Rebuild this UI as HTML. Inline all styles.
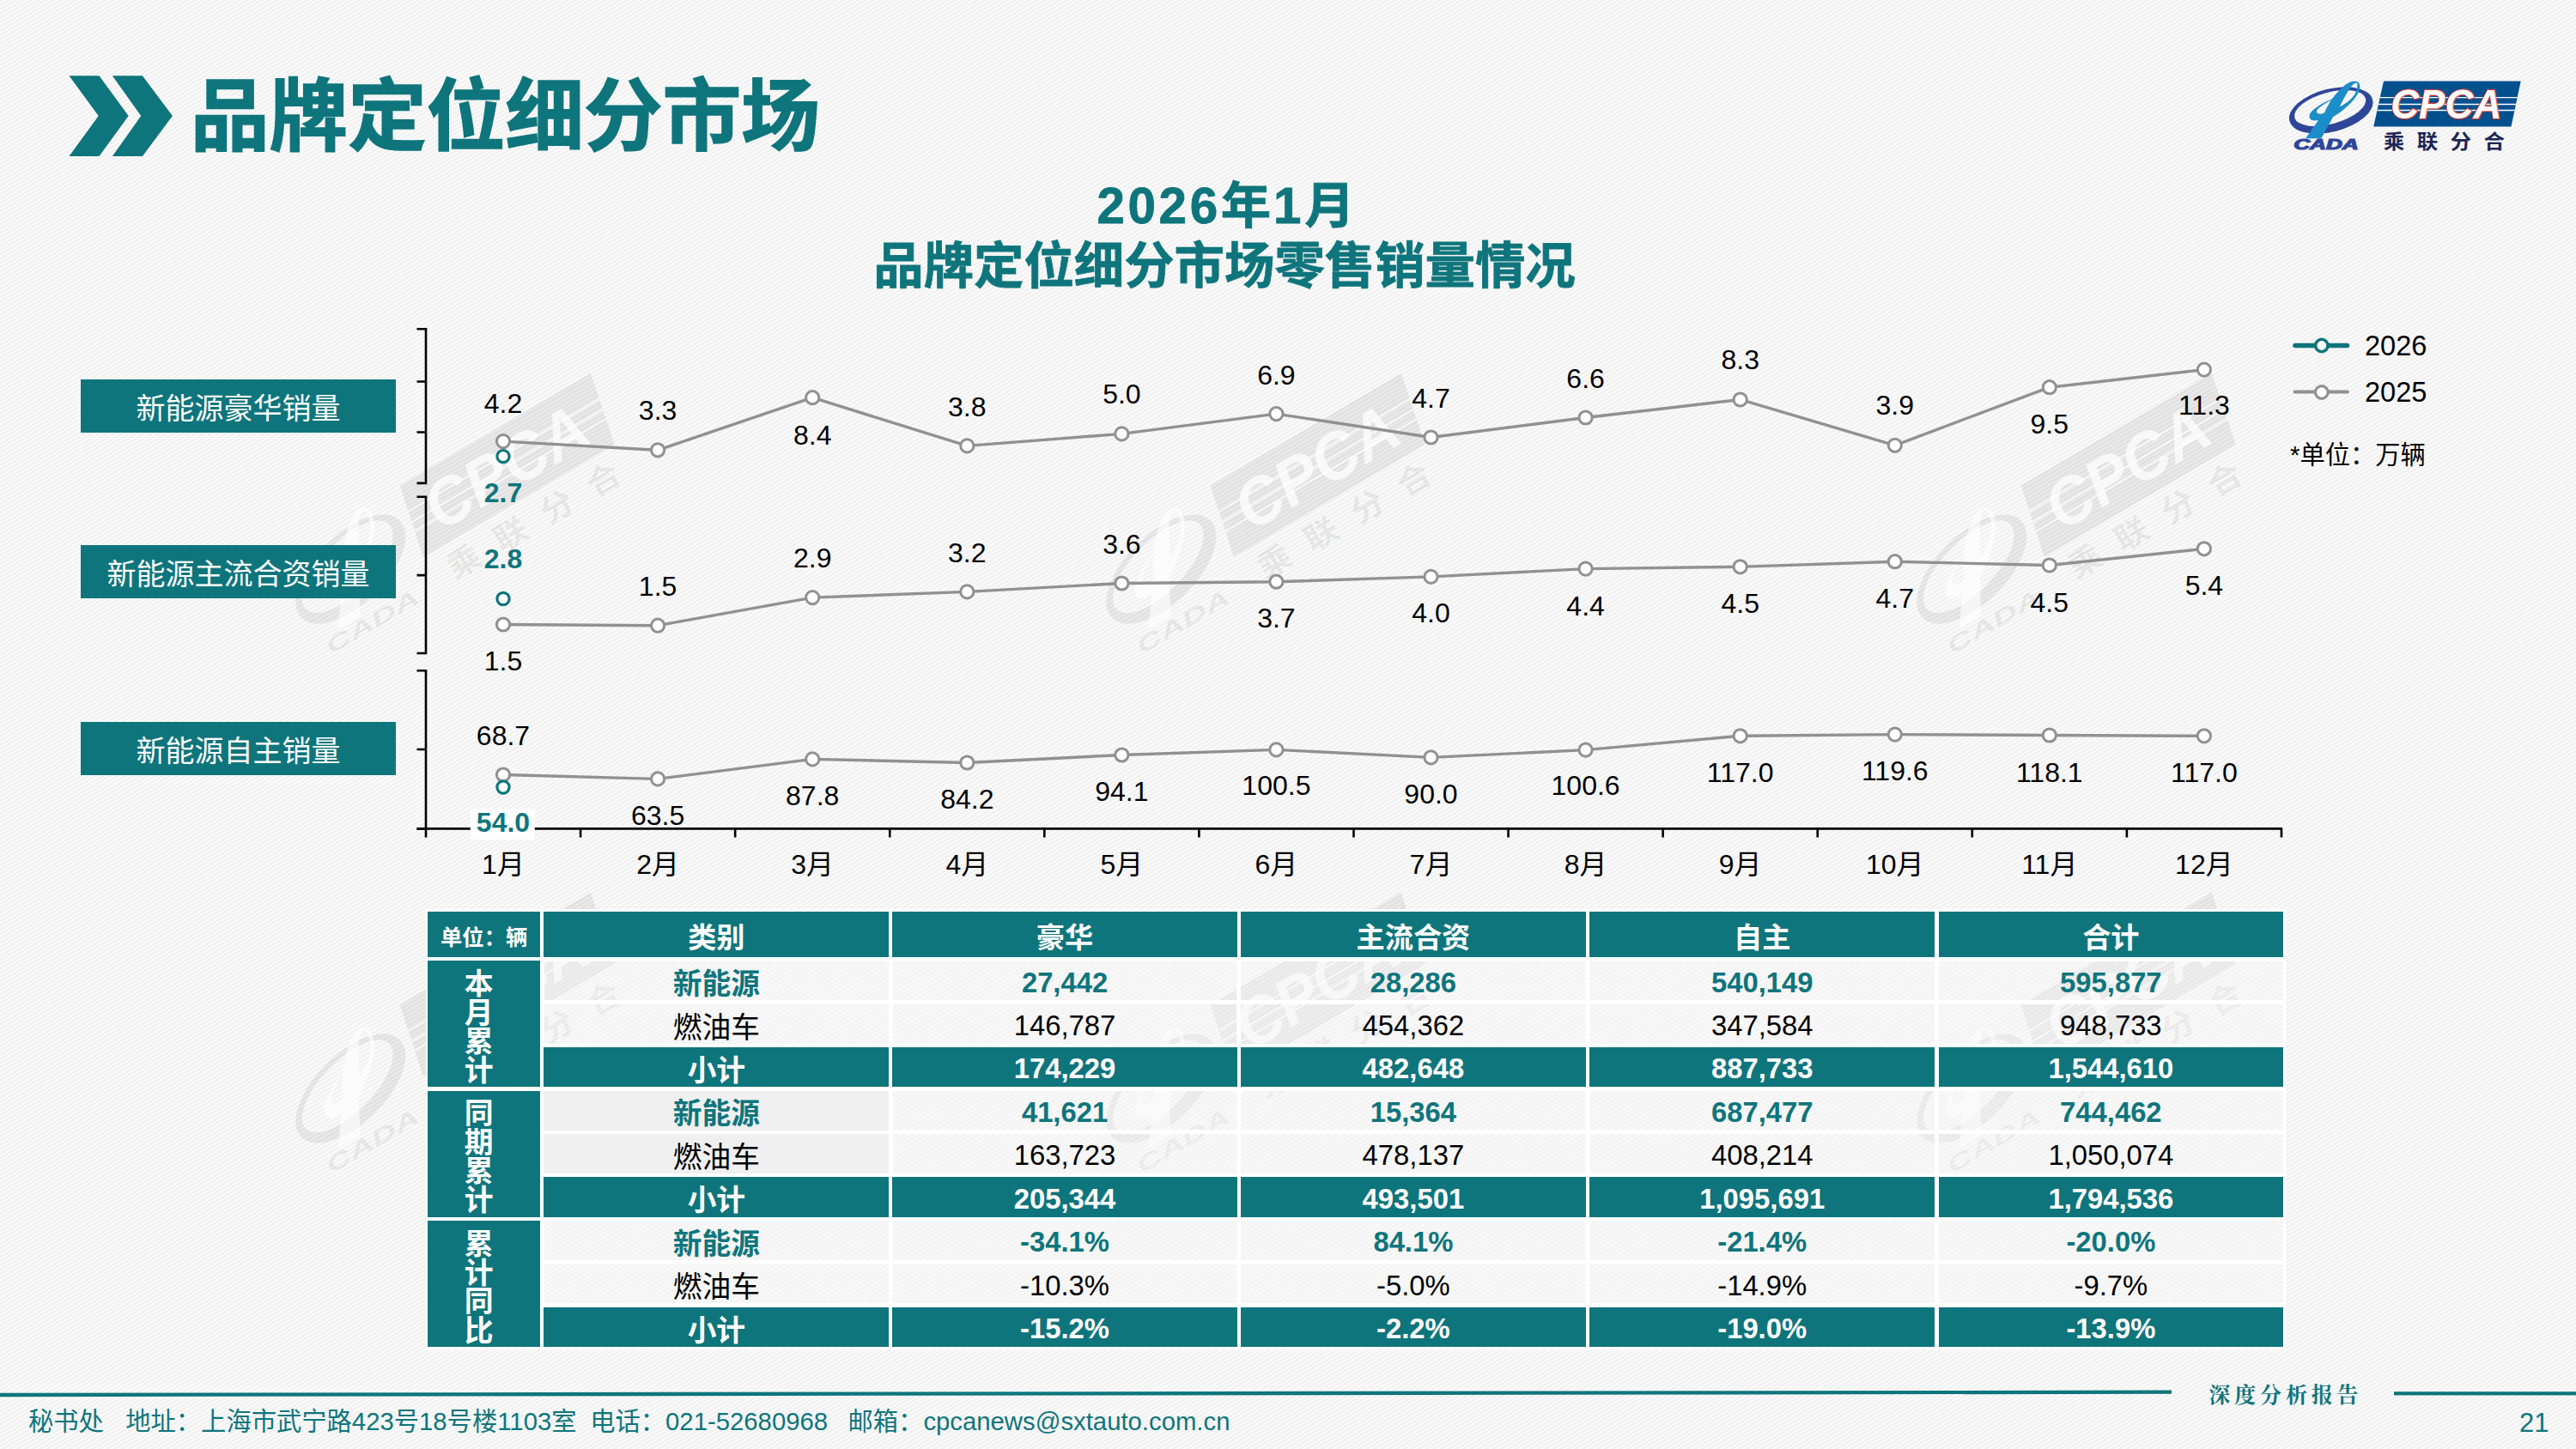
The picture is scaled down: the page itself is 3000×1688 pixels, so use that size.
<!DOCTYPE html>
<html lang="zh-CN">
<head>
<meta charset="utf-8">
<title>品牌定位细分市场</title>
<style>
html,body{margin:0;padding:0;}
body{width:3000px;height:1688px;position:relative;overflow:hidden;
  font-family:"Liberation Sans","Noto Sans CJK SC",sans-serif;color:#000;
  background-color:#f6f6f6;
  background-image:repeating-linear-gradient(150deg,#f1f1f1 0px,#f1f1f1 1.6px,#fbfbfb 2.4px,#fbfbfb 3.6px,#f1f1f1 4.34px);}
.abs{position:absolute;}
.h1{position:absolute;left:222px;top:69.6px;font-size:91.6px;line-height:132px;font-weight:700;color:#0F757C;white-space:nowrap;letter-spacing:0;-webkit-text-stroke:1.5px #0F757C;}
.ctitle{position:absolute;left:826px;top:207.5px;width:1200px;text-align:center;font-size:58.4px;line-height:68.5px;font-weight:700;color:#0F757C;white-space:nowrap;-webkit-text-stroke:0.8px #0F757C;}
.lab{position:absolute;left:94px;width:367px;height:62px;background:#0F757C;color:#fff;font-size:34px;line-height:62px;padding-top:2.5px;box-sizing:border-box;text-align:center;white-space:nowrap;}
.foot{position:absolute;top:1636.2px;font-size:29.3px;line-height:40px;color:#0F757C;white-space:pre;}
.rep{position:absolute;left:2572.5px;top:1605.5px;font-family:"Liberation Serif","Noto Serif CJK SC",serif;font-weight:700;font-size:25px;line-height:40px;letter-spacing:4.8px;color:#0F757C;white-space:nowrap;}
.pg{position:absolute;left:2900px;width:68.5px;top:1638px;text-align:right;font-size:31px;line-height:40px;color:#0F757C;}
svg{position:absolute;left:0;top:0;overflow:visible;}
svg text{font-family:"Liberation Sans","Noto Sans CJK SC",sans-serif;}
.tb{position:absolute;box-sizing:border-box;}
.c{position:absolute;display:flex;align-items:center;justify-content:center;white-space:nowrap;font-size:32.8px;box-sizing:border-box;background:rgba(247,247,247,0.35);}
.d{padding-top:4.6px;}
.w{position:absolute;background:#fff;}
.k{padding-top:2.6px;font-size:33.7px;}
.h{padding-top:3px;font-size:33.2px;}
.t{background:#0F757C;color:#fff;font-weight:700;}
.n{color:#0F757C;font-weight:700;}
.g{background:#f0f0f0;}
.v{writing-mode:vertical-rl;text-orientation:upright;line-height:1;letter-spacing:0px;font-size:33.8px;padding-right:19px;padding-top:6px;}
</style>
</head>
<body>
<svg width="3000" height="1688" viewBox="0 0 3000 1688">
<g transform="translate(465.7,565.6) rotate(-30.5) scale(1.614) translate(-2776,-94.5)"><path fill="rgba(0,0,0,0.068)" fill-rule="evenodd" d="M2763.05,116.17 A49.9,24.7 -14.3 1 0 2666.35,140.83 A49.9,24.7 -14.3 1 0 2763.05,116.17 Z M2755.10,114.65 A42.9,18.4 -15.2 1 0 2672.30,137.15 A42.9,18.4 -15.2 1 0 2755.10,114.65 Z"/><path fill="rgba(255,255,255,0.62)" fill-rule="evenodd" d="M 2685.02 161.26 L 2703.31 161.26 L 2717.11 136.07 C 2724.01 132.62 2734.37 124.34 2741.27 116.06 C 2746.79 109.15 2749.89 101.56 2747.62 97.42 C 2746.10 94.66 2741.96 93.83 2737.82 95.35 C 2730.91 98.11 2724.01 105.01 2715.73 115.37 C 2707.45 118.82 2696.41 125.03 2691.58 130.55 C 2688.13 134.69 2689.16 139.52 2693.65 140.35 C 2696.41 140.62 2698.48 140.21 2699.86 140.21 Z M 2724.70 124.34 C 2728.15 117.44 2731.60 111.22 2733.67 107.77 C 2736.44 102.94 2740.58 96.87 2744.03 96.39 C 2746.24 96.73 2745.75 101.22 2743.34 107.77 C 2741.27 112.61 2735.06 119.51 2724.70 124.34 Z M 2715.04 116.40 C 2710.21 123.65 2708.83 127.79 2707.45 130.55 C 2706.07 132.76 2701.93 133.45 2699.17 132.07 C 2697.10 130.55 2697.79 128.48 2700.55 125.72 C 2704.69 122.27 2710.21 118.82 2715.04 116.40 Z"/><text x="2671.2" y="174.4" font-size="15.6" font-weight="700" font-style="italic" fill="rgba(0,0,0,0.068)"  textLength="75.5" lengthAdjust="spacingAndGlyphs">CADA</text><polygon fill="rgba(0,0,0,0.068)" points="2776,94.5 2935.7,94.5 2924.5,147.6 2764.2,147.6"/><path stroke="rgba(255,255,255,0.72)" stroke-width="1.3" fill="none" d="M2771.9,113.7H2931.7M2770.1,121.5H2930.0M2768.6,128.5H2928.5"/><text x="2784.2" y="138.3" font-size="47.5" font-weight="700" font-style="italic" fill="rgba(255,255,255,0.72)" textLength="129.2" lengthAdjust="spacingAndGlyphs">CPCA</text><text transform="matrix(1 0 0 0.93 0 0)" x="2775.8" y="186.45" font-size="24.5" font-weight="700" fill="rgba(0,0,0,0.068)" letter-spacing="14.4">乘联分合</text></g>
<g transform="translate(1409.7,565.6) rotate(-30.5) scale(1.614) translate(-2776,-94.5)"><path fill="rgba(0,0,0,0.068)" fill-rule="evenodd" d="M2763.05,116.17 A49.9,24.7 -14.3 1 0 2666.35,140.83 A49.9,24.7 -14.3 1 0 2763.05,116.17 Z M2755.10,114.65 A42.9,18.4 -15.2 1 0 2672.30,137.15 A42.9,18.4 -15.2 1 0 2755.10,114.65 Z"/><path fill="rgba(255,255,255,0.62)" fill-rule="evenodd" d="M 2685.02 161.26 L 2703.31 161.26 L 2717.11 136.07 C 2724.01 132.62 2734.37 124.34 2741.27 116.06 C 2746.79 109.15 2749.89 101.56 2747.62 97.42 C 2746.10 94.66 2741.96 93.83 2737.82 95.35 C 2730.91 98.11 2724.01 105.01 2715.73 115.37 C 2707.45 118.82 2696.41 125.03 2691.58 130.55 C 2688.13 134.69 2689.16 139.52 2693.65 140.35 C 2696.41 140.62 2698.48 140.21 2699.86 140.21 Z M 2724.70 124.34 C 2728.15 117.44 2731.60 111.22 2733.67 107.77 C 2736.44 102.94 2740.58 96.87 2744.03 96.39 C 2746.24 96.73 2745.75 101.22 2743.34 107.77 C 2741.27 112.61 2735.06 119.51 2724.70 124.34 Z M 2715.04 116.40 C 2710.21 123.65 2708.83 127.79 2707.45 130.55 C 2706.07 132.76 2701.93 133.45 2699.17 132.07 C 2697.10 130.55 2697.79 128.48 2700.55 125.72 C 2704.69 122.27 2710.21 118.82 2715.04 116.40 Z"/><text x="2671.2" y="174.4" font-size="15.6" font-weight="700" font-style="italic" fill="rgba(0,0,0,0.068)"  textLength="75.5" lengthAdjust="spacingAndGlyphs">CADA</text><polygon fill="rgba(0,0,0,0.068)" points="2776,94.5 2935.7,94.5 2924.5,147.6 2764.2,147.6"/><path stroke="rgba(255,255,255,0.72)" stroke-width="1.3" fill="none" d="M2771.9,113.7H2931.7M2770.1,121.5H2930.0M2768.6,128.5H2928.5"/><text x="2784.2" y="138.3" font-size="47.5" font-weight="700" font-style="italic" fill="rgba(255,255,255,0.72)" textLength="129.2" lengthAdjust="spacingAndGlyphs">CPCA</text><text transform="matrix(1 0 0 0.93 0 0)" x="2775.8" y="186.45" font-size="24.5" font-weight="700" fill="rgba(0,0,0,0.068)" letter-spacing="14.4">乘联分合</text></g>
<g transform="translate(2353.7,565.6) rotate(-30.5) scale(1.614) translate(-2776,-94.5)"><path fill="rgba(0,0,0,0.068)" fill-rule="evenodd" d="M2763.05,116.17 A49.9,24.7 -14.3 1 0 2666.35,140.83 A49.9,24.7 -14.3 1 0 2763.05,116.17 Z M2755.10,114.65 A42.9,18.4 -15.2 1 0 2672.30,137.15 A42.9,18.4 -15.2 1 0 2755.10,114.65 Z"/><path fill="rgba(255,255,255,0.62)" fill-rule="evenodd" d="M 2685.02 161.26 L 2703.31 161.26 L 2717.11 136.07 C 2724.01 132.62 2734.37 124.34 2741.27 116.06 C 2746.79 109.15 2749.89 101.56 2747.62 97.42 C 2746.10 94.66 2741.96 93.83 2737.82 95.35 C 2730.91 98.11 2724.01 105.01 2715.73 115.37 C 2707.45 118.82 2696.41 125.03 2691.58 130.55 C 2688.13 134.69 2689.16 139.52 2693.65 140.35 C 2696.41 140.62 2698.48 140.21 2699.86 140.21 Z M 2724.70 124.34 C 2728.15 117.44 2731.60 111.22 2733.67 107.77 C 2736.44 102.94 2740.58 96.87 2744.03 96.39 C 2746.24 96.73 2745.75 101.22 2743.34 107.77 C 2741.27 112.61 2735.06 119.51 2724.70 124.34 Z M 2715.04 116.40 C 2710.21 123.65 2708.83 127.79 2707.45 130.55 C 2706.07 132.76 2701.93 133.45 2699.17 132.07 C 2697.10 130.55 2697.79 128.48 2700.55 125.72 C 2704.69 122.27 2710.21 118.82 2715.04 116.40 Z"/><text x="2671.2" y="174.4" font-size="15.6" font-weight="700" font-style="italic" fill="rgba(0,0,0,0.068)"  textLength="75.5" lengthAdjust="spacingAndGlyphs">CADA</text><polygon fill="rgba(0,0,0,0.068)" points="2776,94.5 2935.7,94.5 2924.5,147.6 2764.2,147.6"/><path stroke="rgba(255,255,255,0.72)" stroke-width="1.3" fill="none" d="M2771.9,113.7H2931.7M2770.1,121.5H2930.0M2768.6,128.5H2928.5"/><text x="2784.2" y="138.3" font-size="47.5" font-weight="700" font-style="italic" fill="rgba(255,255,255,0.72)" textLength="129.2" lengthAdjust="spacingAndGlyphs">CPCA</text><text transform="matrix(1 0 0 0.93 0 0)" x="2775.8" y="186.45" font-size="24.5" font-weight="700" fill="rgba(0,0,0,0.068)" letter-spacing="14.4">乘联分合</text></g>
<g transform="translate(465.7,1170.6) rotate(-30.5) scale(1.614) translate(-2776,-94.5)"><path fill="rgba(0,0,0,0.068)" fill-rule="evenodd" d="M2763.05,116.17 A49.9,24.7 -14.3 1 0 2666.35,140.83 A49.9,24.7 -14.3 1 0 2763.05,116.17 Z M2755.10,114.65 A42.9,18.4 -15.2 1 0 2672.30,137.15 A42.9,18.4 -15.2 1 0 2755.10,114.65 Z"/><path fill="rgba(255,255,255,0.62)" fill-rule="evenodd" d="M 2685.02 161.26 L 2703.31 161.26 L 2717.11 136.07 C 2724.01 132.62 2734.37 124.34 2741.27 116.06 C 2746.79 109.15 2749.89 101.56 2747.62 97.42 C 2746.10 94.66 2741.96 93.83 2737.82 95.35 C 2730.91 98.11 2724.01 105.01 2715.73 115.37 C 2707.45 118.82 2696.41 125.03 2691.58 130.55 C 2688.13 134.69 2689.16 139.52 2693.65 140.35 C 2696.41 140.62 2698.48 140.21 2699.86 140.21 Z M 2724.70 124.34 C 2728.15 117.44 2731.60 111.22 2733.67 107.77 C 2736.44 102.94 2740.58 96.87 2744.03 96.39 C 2746.24 96.73 2745.75 101.22 2743.34 107.77 C 2741.27 112.61 2735.06 119.51 2724.70 124.34 Z M 2715.04 116.40 C 2710.21 123.65 2708.83 127.79 2707.45 130.55 C 2706.07 132.76 2701.93 133.45 2699.17 132.07 C 2697.10 130.55 2697.79 128.48 2700.55 125.72 C 2704.69 122.27 2710.21 118.82 2715.04 116.40 Z"/><text x="2671.2" y="174.4" font-size="15.6" font-weight="700" font-style="italic" fill="rgba(0,0,0,0.068)"  textLength="75.5" lengthAdjust="spacingAndGlyphs">CADA</text><polygon fill="rgba(0,0,0,0.068)" points="2776,94.5 2935.7,94.5 2924.5,147.6 2764.2,147.6"/><path stroke="rgba(255,255,255,0.72)" stroke-width="1.3" fill="none" d="M2771.9,113.7H2931.7M2770.1,121.5H2930.0M2768.6,128.5H2928.5"/><text x="2784.2" y="138.3" font-size="47.5" font-weight="700" font-style="italic" fill="rgba(255,255,255,0.72)" textLength="129.2" lengthAdjust="spacingAndGlyphs">CPCA</text><text transform="matrix(1 0 0 0.93 0 0)" x="2775.8" y="186.45" font-size="24.5" font-weight="700" fill="rgba(0,0,0,0.068)" letter-spacing="14.4">乘联分合</text></g>
<g transform="translate(1409.7,1170.6) rotate(-30.5) scale(1.614) translate(-2776,-94.5)"><path fill="rgba(0,0,0,0.068)" fill-rule="evenodd" d="M2763.05,116.17 A49.9,24.7 -14.3 1 0 2666.35,140.83 A49.9,24.7 -14.3 1 0 2763.05,116.17 Z M2755.10,114.65 A42.9,18.4 -15.2 1 0 2672.30,137.15 A42.9,18.4 -15.2 1 0 2755.10,114.65 Z"/><path fill="rgba(255,255,255,0.62)" fill-rule="evenodd" d="M 2685.02 161.26 L 2703.31 161.26 L 2717.11 136.07 C 2724.01 132.62 2734.37 124.34 2741.27 116.06 C 2746.79 109.15 2749.89 101.56 2747.62 97.42 C 2746.10 94.66 2741.96 93.83 2737.82 95.35 C 2730.91 98.11 2724.01 105.01 2715.73 115.37 C 2707.45 118.82 2696.41 125.03 2691.58 130.55 C 2688.13 134.69 2689.16 139.52 2693.65 140.35 C 2696.41 140.62 2698.48 140.21 2699.86 140.21 Z M 2724.70 124.34 C 2728.15 117.44 2731.60 111.22 2733.67 107.77 C 2736.44 102.94 2740.58 96.87 2744.03 96.39 C 2746.24 96.73 2745.75 101.22 2743.34 107.77 C 2741.27 112.61 2735.06 119.51 2724.70 124.34 Z M 2715.04 116.40 C 2710.21 123.65 2708.83 127.79 2707.45 130.55 C 2706.07 132.76 2701.93 133.45 2699.17 132.07 C 2697.10 130.55 2697.79 128.48 2700.55 125.72 C 2704.69 122.27 2710.21 118.82 2715.04 116.40 Z"/><text x="2671.2" y="174.4" font-size="15.6" font-weight="700" font-style="italic" fill="rgba(0,0,0,0.068)"  textLength="75.5" lengthAdjust="spacingAndGlyphs">CADA</text><polygon fill="rgba(0,0,0,0.068)" points="2776,94.5 2935.7,94.5 2924.5,147.6 2764.2,147.6"/><path stroke="rgba(255,255,255,0.72)" stroke-width="1.3" fill="none" d="M2771.9,113.7H2931.7M2770.1,121.5H2930.0M2768.6,128.5H2928.5"/><text x="2784.2" y="138.3" font-size="47.5" font-weight="700" font-style="italic" fill="rgba(255,255,255,0.72)" textLength="129.2" lengthAdjust="spacingAndGlyphs">CPCA</text><text transform="matrix(1 0 0 0.93 0 0)" x="2775.8" y="186.45" font-size="24.5" font-weight="700" fill="rgba(0,0,0,0.068)" letter-spacing="14.4">乘联分合</text></g>
<g transform="translate(2353.7,1170.6) rotate(-30.5) scale(1.614) translate(-2776,-94.5)"><path fill="rgba(0,0,0,0.068)" fill-rule="evenodd" d="M2763.05,116.17 A49.9,24.7 -14.3 1 0 2666.35,140.83 A49.9,24.7 -14.3 1 0 2763.05,116.17 Z M2755.10,114.65 A42.9,18.4 -15.2 1 0 2672.30,137.15 A42.9,18.4 -15.2 1 0 2755.10,114.65 Z"/><path fill="rgba(255,255,255,0.62)" fill-rule="evenodd" d="M 2685.02 161.26 L 2703.31 161.26 L 2717.11 136.07 C 2724.01 132.62 2734.37 124.34 2741.27 116.06 C 2746.79 109.15 2749.89 101.56 2747.62 97.42 C 2746.10 94.66 2741.96 93.83 2737.82 95.35 C 2730.91 98.11 2724.01 105.01 2715.73 115.37 C 2707.45 118.82 2696.41 125.03 2691.58 130.55 C 2688.13 134.69 2689.16 139.52 2693.65 140.35 C 2696.41 140.62 2698.48 140.21 2699.86 140.21 Z M 2724.70 124.34 C 2728.15 117.44 2731.60 111.22 2733.67 107.77 C 2736.44 102.94 2740.58 96.87 2744.03 96.39 C 2746.24 96.73 2745.75 101.22 2743.34 107.77 C 2741.27 112.61 2735.06 119.51 2724.70 124.34 Z M 2715.04 116.40 C 2710.21 123.65 2708.83 127.79 2707.45 130.55 C 2706.07 132.76 2701.93 133.45 2699.17 132.07 C 2697.10 130.55 2697.79 128.48 2700.55 125.72 C 2704.69 122.27 2710.21 118.82 2715.04 116.40 Z"/><text x="2671.2" y="174.4" font-size="15.6" font-weight="700" font-style="italic" fill="rgba(0,0,0,0.068)"  textLength="75.5" lengthAdjust="spacingAndGlyphs">CADA</text><polygon fill="rgba(0,0,0,0.068)" points="2776,94.5 2935.7,94.5 2924.5,147.6 2764.2,147.6"/><path stroke="rgba(255,255,255,0.72)" stroke-width="1.3" fill="none" d="M2771.9,113.7H2931.7M2770.1,121.5H2930.0M2768.6,128.5H2928.5"/><text x="2784.2" y="138.3" font-size="47.5" font-weight="700" font-style="italic" fill="rgba(255,255,255,0.72)" textLength="129.2" lengthAdjust="spacingAndGlyphs">CPCA</text><text transform="matrix(1 0 0 0.93 0 0)" x="2775.8" y="186.45" font-size="24.5" font-weight="700" fill="rgba(0,0,0,0.068)" letter-spacing="14.4">乘联分合</text></g>
</svg>
<svg width="3000" height="1688" viewBox="0 0 3000 1688">
<path fill="#2E4699" fill-rule="evenodd" d="M2763.05,116.17 A49.9,24.7 -14.3 1 0 2666.35,140.83 A49.9,24.7 -14.3 1 0 2763.05,116.17 Z M2755.10,114.65 A42.9,18.4 -15.2 1 0 2672.30,137.15 A42.9,18.4 -15.2 1 0 2755.10,114.65 Z"/><path fill="#1B8DC8" fill-rule="evenodd" d="M 2685.02 161.26 L 2703.31 161.26 L 2717.11 136.07 C 2724.01 132.62 2734.37 124.34 2741.27 116.06 C 2746.79 109.15 2749.89 101.56 2747.62 97.42 C 2746.10 94.66 2741.96 93.83 2737.82 95.35 C 2730.91 98.11 2724.01 105.01 2715.73 115.37 C 2707.45 118.82 2696.41 125.03 2691.58 130.55 C 2688.13 134.69 2689.16 139.52 2693.65 140.35 C 2696.41 140.62 2698.48 140.21 2699.86 140.21 Z M 2724.70 124.34 C 2728.15 117.44 2731.60 111.22 2733.67 107.77 C 2736.44 102.94 2740.58 96.87 2744.03 96.39 C 2746.24 96.73 2745.75 101.22 2743.34 107.77 C 2741.27 112.61 2735.06 119.51 2724.70 124.34 Z M 2715.04 116.40 C 2710.21 123.65 2708.83 127.79 2707.45 130.55 C 2706.07 132.76 2701.93 133.45 2699.17 132.07 C 2697.10 130.55 2697.79 128.48 2700.55 125.72 C 2704.69 122.27 2710.21 118.82 2715.04 116.40 Z"/><ellipse cx="2737.6" cy="103.4" rx="1.9" ry="1.1" fill="#2E4699" transform="rotate(-30 2737.6 103.4)"/><text x="2671.2" y="174.4" font-size="15.6" font-weight="700" font-style="italic" fill="#2E4699" stroke="#2E4699" stroke-width="1.1" textLength="75.5" lengthAdjust="spacingAndGlyphs">CADA</text><polygon fill="#03508F" points="2776,94.5 2935.7,94.5 2924.5,147.6 2764.2,147.6"/><path stroke="#fff" stroke-width="1.3" fill="none" d="M2771.9,113.7H2931.7M2770.1,121.5H2930.0M2768.6,128.5H2928.5"/><text x="2784.2" y="138.3" font-size="47.5" font-weight="700" font-style="italic" fill="#fff" stroke="#E8362B" stroke-width="2" paint-order="stroke" textLength="129.2" lengthAdjust="spacingAndGlyphs">CPCA</text><text transform="matrix(1 0 0 0.93 0 0)" x="2775.8" y="186.45" font-size="24.5" font-weight="700" fill="#1B2556" letter-spacing="14.4">乘联分合</text>
</svg>
<div class="h1">品牌定位细分市场</div>
<div class="ctitle"><span style="position:relative;top:-1.7px"><span style="letter-spacing:3.6px;margin-left:3px">2026</span>年<span style="letter-spacing:3.6px;margin-left:3px">1</span>月</span><br>品牌定位细分市场零售销量情况</div>
<div class="lab" style="top:442px">新能源豪华销量</div>
<div class="lab" style="top:635.4px">新能源主流合资销量</div>
<div class="lab" style="top:841.3px">新能源自主销量</div>
<div class="foot" style="left:33px">秘书处</div><div class="foot" style="left:146.2px">地址：上海市武宁路423号18号楼1103室</div><div class="foot" style="left:687.2px">电话：021-52680968</div><div class="foot" style="left:987.5px">邮箱：cpcanews@sxtauto.com.cn</div>
<div class="rep">深度分析报告</div>
<div class="pg">21</div>
<div class="tbl">
<div class="w" style="left:495.9px;top:1058.9px;width:2165.6px;height:3.1px"></div><div class="w" style="left:495.9px;top:1114.6px;width:2165.6px;height:5.1px"></div><div class="w" style="left:495.9px;top:1165.1px;width:2165.6px;height:5.0px"></div><div class="w" style="left:495.9px;top:1215.5px;width:2165.6px;height:5.0px"></div><div class="w" style="left:495.9px;top:1265.9px;width:2165.6px;height:5.0px"></div><div class="w" style="left:495.9px;top:1316.4px;width:2165.6px;height:5.0px"></div><div class="w" style="left:495.9px;top:1366.8px;width:2165.6px;height:5.0px"></div><div class="w" style="left:495.9px;top:1417.2px;width:2165.6px;height:5.0px"></div><div class="w" style="left:495.9px;top:1467.6px;width:2165.6px;height:5.0px"></div><div class="w" style="left:495.9px;top:1518.0px;width:2165.6px;height:5.0px"></div><div class="w" style="left:495.9px;top:1568.5px;width:2165.6px;height:3.1px"></div><div class="w" style="left:495.5px;top:1059.3px;width:3.1px;height:511.9px"></div><div class="w" style="left:628.7px;top:1059.3px;width:5.0px;height:511.9px"></div><div class="w" style="left:1035.0px;top:1059.3px;width:4.7px;height:511.9px"></div><div class="w" style="left:1440.4px;top:1059.3px;width:5.1px;height:511.9px"></div><div class="w" style="left:1846.3px;top:1059.3px;width:5.5px;height:511.9px"></div><div class="w" style="left:2252.6px;top:1059.3px;width:5.3px;height:511.9px"></div><div class="w" style="left:2658.8px;top:1059.3px;width:3.1px;height:511.9px"></div>
<div class="c t" style="left:498.2px;top:1061.6px;width:130.9px;height:53.4px;font-size:25.3px;padding-top:4px;">单位：辆</div><div class="c t h" style="left:633.3px;top:1061.6px;width:402.1px;height:53.4px;">类别</div><div class="c t h" style="left:1039.3px;top:1061.6px;width:401.5px;height:53.4px;">豪华</div><div class="c t h" style="left:1445.1px;top:1061.6px;width:401.6px;height:53.4px;">主流合资</div><div class="c t h" style="left:1851.4px;top:1061.6px;width:401.6px;height:53.4px;">自主</div><div class="c t h" style="left:2257.5px;top:1061.6px;width:401.7px;height:53.4px;">合计</div>
<div class="c t v" style="left:498.2px;top:1119.3px;width:130.9px;height:147.0px;">本月累计</div><div class="c n k" style="left:633.3px;top:1119.3px;width:402.1px;height:46.2px;">新能源</div><div class="c n d" style="left:1039.3px;top:1119.3px;width:401.5px;height:46.2px;">27,442</div><div class="c n d" style="left:1445.1px;top:1119.3px;width:401.6px;height:46.2px;">28,286</div><div class="c n d" style="left:1851.4px;top:1119.3px;width:401.6px;height:46.2px;">540,149</div><div class="c n d" style="left:2257.5px;top:1119.3px;width:401.7px;height:46.2px;">595,877</div>
<div class="c k" style="left:633.3px;top:1169.7px;width:402.1px;height:46.2px;">燃油车</div><div class="c d" style="left:1039.3px;top:1169.7px;width:401.5px;height:46.2px;">146,787</div><div class="c d" style="left:1445.1px;top:1169.7px;width:401.6px;height:46.2px;">454,362</div><div class="c d" style="left:1851.4px;top:1169.7px;width:401.6px;height:46.2px;">347,584</div><div class="c d" style="left:2257.5px;top:1169.7px;width:401.7px;height:46.2px;">948,733</div>
<div class="c t k" style="left:633.3px;top:1220.1px;width:402.1px;height:46.2px;">小计</div><div class="c t d" style="left:1039.3px;top:1220.1px;width:401.5px;height:46.2px;">174,229</div><div class="c t d" style="left:1445.1px;top:1220.1px;width:401.6px;height:46.2px;">482,648</div><div class="c t d" style="left:1851.4px;top:1220.1px;width:401.6px;height:46.2px;">887,733</div><div class="c t d" style="left:2257.5px;top:1220.1px;width:401.7px;height:46.2px;">1,544,610</div>
<div class="c t v" style="left:498.2px;top:1270.6px;width:130.9px;height:147.0px;">同期累计</div><div class="c n k g" style="left:633.3px;top:1270.6px;width:402.1px;height:46.2px;">新能源</div><div class="c n d" style="left:1039.3px;top:1270.6px;width:401.5px;height:46.2px;">41,621</div><div class="c n d" style="left:1445.1px;top:1270.6px;width:401.6px;height:46.2px;">15,364</div><div class="c n d" style="left:1851.4px;top:1270.6px;width:401.6px;height:46.2px;">687,477</div><div class="c n d" style="left:2257.5px;top:1270.6px;width:401.7px;height:46.2px;">744,462</div>
<div class="c k g" style="left:633.3px;top:1321.0px;width:402.1px;height:46.2px;">燃油车</div><div class="c d" style="left:1039.3px;top:1321.0px;width:401.5px;height:46.2px;">163,723</div><div class="c d" style="left:1445.1px;top:1321.0px;width:401.6px;height:46.2px;">478,137</div><div class="c d" style="left:1851.4px;top:1321.0px;width:401.6px;height:46.2px;">408,214</div><div class="c d" style="left:2257.5px;top:1321.0px;width:401.7px;height:46.2px;">1,050,074</div>
<div class="c t k" style="left:633.3px;top:1371.4px;width:402.1px;height:46.2px;">小计</div><div class="c t d" style="left:1039.3px;top:1371.4px;width:401.5px;height:46.2px;">205,344</div><div class="c t d" style="left:1445.1px;top:1371.4px;width:401.6px;height:46.2px;">493,501</div><div class="c t d" style="left:1851.4px;top:1371.4px;width:401.6px;height:46.2px;">1,095,691</div><div class="c t d" style="left:2257.5px;top:1371.4px;width:401.7px;height:46.2px;">1,794,536</div>
<div class="c t v" style="left:498.2px;top:1421.8px;width:130.9px;height:147.0px;">累计同比</div><div class="c n k" style="left:633.3px;top:1421.8px;width:402.1px;height:46.2px;">新能源</div><div class="c n d" style="left:1039.3px;top:1421.8px;width:401.5px;height:46.2px;">-34.1%</div><div class="c n d" style="left:1445.1px;top:1421.8px;width:401.6px;height:46.2px;">84.1%</div><div class="c n d" style="left:1851.4px;top:1421.8px;width:401.6px;height:46.2px;">-21.4%</div><div class="c n d" style="left:2257.5px;top:1421.8px;width:401.7px;height:46.2px;">-20.0%</div>
<div class="c k" style="left:633.3px;top:1472.2px;width:402.1px;height:46.2px;">燃油车</div><div class="c d" style="left:1039.3px;top:1472.2px;width:401.5px;height:46.2px;">-10.3%</div><div class="c d" style="left:1445.1px;top:1472.2px;width:401.6px;height:46.2px;">-5.0%</div><div class="c d" style="left:1851.4px;top:1472.2px;width:401.6px;height:46.2px;">-14.9%</div><div class="c d" style="left:2257.5px;top:1472.2px;width:401.7px;height:46.2px;">-9.7%</div>
<div class="c t k" style="left:633.3px;top:1522.7px;width:402.1px;height:46.2px;">小计</div><div class="c t d" style="left:1039.3px;top:1522.7px;width:401.5px;height:46.2px;">-15.2%</div><div class="c t d" style="left:1445.1px;top:1522.7px;width:401.6px;height:46.2px;">-2.2%</div><div class="c t d" style="left:1851.4px;top:1522.7px;width:401.6px;height:46.2px;">-19.0%</div><div class="c t d" style="left:2257.5px;top:1522.7px;width:401.7px;height:46.2px;">-13.9%</div>
</div>
<svg width="3000" height="1688" viewBox="0 0 3000 1688">
<polygon fill="#0F757C" points="80.5,88.2 115.5,88.2 149.7,135.1 115.5,182.1 80.5,182.1 114.7,135.1"/>
<polygon fill="#0F757C" points="130.9,88.2 165.9,88.2 200.9,135.1 165.9,182.1 130.9,182.1 164.2,135.1"/>
<polygon fill="#0F757C" points="0,1622.8 2529,1619.6 2529,1623.8 0,1627.2"/>
<rect fill="#0F757C" x="2788" y="1621.2" width="212" height="4.2"/>
</svg>
<svg width="3000" height="1688" viewBox="0 0 3000 1688">
<path stroke="#000" stroke-width="2.6" fill="none" stroke-linecap="butt" d="M496.0,381.9V564.1999999999999M485.5,383.2H496.0M485.5,444.5H496.0M485.5,503.5H496.0M485.5,562.9H496.0M496.0,577.5V762.3M485.5,578.8H496.0M485.5,670.1H496.0M485.5,761.0H496.0M496.0,780.0V966.6999999999999M485.5,781.3H496.0M485.5,873.0H496.0M485.5,965.4H496.0"/>
<path stroke="#000" stroke-width="2.6" fill="none" stroke-linecap="butt" d="M485.5,965.4H2658.26M496.00,965.4V975.6M676.08,965.4V975.6M856.16,965.4V975.6M1036.24,965.4V975.6M1216.32,965.4V975.6M1396.40,965.4V975.6M1576.48,965.4V975.6M1756.56,965.4V975.6M1936.64,965.4V975.6M2116.72,965.4V975.6M2296.80,965.4V975.6M2476.88,965.4V975.6M2656.96,965.4V975.6"/>
<rect x="547.8" y="942.4" width="74.9" height="35.8" fill="#fff"/>
<polyline points="586.0,514.1 766.1,524.3 946.2,463.2 1126.3,519.4 1306.4,505.4 1486.4,482.1 1666.5,509.5 1846.6,486.5 2026.7,465.5 2206.8,518.8 2386.8,451.2 2566.9,430.6" fill="none" stroke="#919191" stroke-width="3.4" stroke-linejoin="round"/>
<polyline points="586.0,727.5 766.1,728.7 946.2,696.1 1126.3,689.4 1306.4,679.5 1486.4,677.7 1666.5,671.9 1846.6,662.6 2026.7,660.3 2206.8,654.2 2386.8,658.5 2566.9,639.3" fill="none" stroke="#919191" stroke-width="3.4" stroke-linejoin="round"/>
<polyline points="586.0,902.5 766.1,907.4 946.2,884.4 1126.3,888.5 1306.4,879.5 1486.4,873.4 1666.5,882.4 1846.6,873.6 2026.7,857.3 2206.8,855.6 2386.8,856.5 2566.9,857.3" fill="none" stroke="#919191" stroke-width="3.4" stroke-linejoin="round"/>
<g fill="#fff" stroke="#919191" stroke-width="3"><circle cx="586.0" cy="514.1" r="7.6"/><circle cx="766.1" cy="524.3" r="7.6"/><circle cx="946.2" cy="463.2" r="7.6"/><circle cx="1126.3" cy="519.4" r="7.6"/><circle cx="1306.4" cy="505.4" r="7.6"/><circle cx="1486.4" cy="482.1" r="7.6"/><circle cx="1666.5" cy="509.5" r="7.6"/><circle cx="1846.6" cy="486.5" r="7.6"/><circle cx="2026.7" cy="465.5" r="7.6"/><circle cx="2206.8" cy="518.8" r="7.6"/><circle cx="2386.8" cy="451.2" r="7.6"/><circle cx="2566.9" cy="430.6" r="7.6"/><circle cx="586.0" cy="727.5" r="7.6"/><circle cx="766.1" cy="728.7" r="7.6"/><circle cx="946.2" cy="696.1" r="7.6"/><circle cx="1126.3" cy="689.4" r="7.6"/><circle cx="1306.4" cy="679.5" r="7.6"/><circle cx="1486.4" cy="677.7" r="7.6"/><circle cx="1666.5" cy="671.9" r="7.6"/><circle cx="1846.6" cy="662.6" r="7.6"/><circle cx="2026.7" cy="660.3" r="7.6"/><circle cx="2206.8" cy="654.2" r="7.6"/><circle cx="2386.8" cy="658.5" r="7.6"/><circle cx="2566.9" cy="639.3" r="7.6"/><circle cx="586.0" cy="902.5" r="7.6"/><circle cx="766.1" cy="907.4" r="7.6"/><circle cx="946.2" cy="884.4" r="7.6"/><circle cx="1126.3" cy="888.5" r="7.6"/><circle cx="1306.4" cy="879.5" r="7.6"/><circle cx="1486.4" cy="873.4" r="7.6"/><circle cx="1666.5" cy="882.4" r="7.6"/><circle cx="1846.6" cy="873.6" r="7.6"/><circle cx="2026.7" cy="857.3" r="7.6"/><circle cx="2206.8" cy="855.6" r="7.6"/><circle cx="2386.8" cy="856.5" r="7.6"/><circle cx="2566.9" cy="857.3" r="7.6"/></g>
<g fill="#fff" stroke="#0F757C" stroke-width="3.2"><circle cx="586.0" cy="531.6" r="7.1"/><circle cx="586.0" cy="697.5" r="7.1"/><circle cx="586.0" cy="917.0" r="7.1"/></g>
<g font-size="32" text-anchor="middle" fill="#000">
<text x="586.0" y="480.6">4.2</text><text x="766.1" y="489.4">3.3</text><text x="946.2" y="517.9">8.4</text><text x="1126.3" y="485.0">3.8</text><text x="1306.4" y="470.4">5.0</text><text x="1486.4" y="448.0">6.9</text><text x="1666.5" y="474.8">4.7</text><text x="1846.6" y="451.5">6.6</text><text x="2026.7" y="429.7">8.3</text><text x="2206.8" y="483.0">3.9</text><text x="2386.8" y="504.8">9.5</text><text x="2566.9" y="483.0">11.3</text>
<text x="586.0" y="780.8">1.5</text><text x="766.1" y="693.8">1.5</text><text x="946.2" y="661.1">2.9</text><text x="1126.3" y="654.7">3.2</text><text x="1306.4" y="645.1">3.6</text><text x="1486.4" y="731.0">3.7</text><text x="1666.5" y="725.2">4.0</text><text x="1846.6" y="716.5">4.4</text><text x="2026.7" y="713.6">4.5</text><text x="2206.8" y="707.7">4.7</text><text x="2386.8" y="713.0">4.5</text><text x="2566.9" y="692.6">5.4</text>
<text x="586.0" y="867.5">68.7</text><text x="766.1" y="960.7">63.5</text><text x="946.2" y="938.3">87.8</text><text x="1126.3" y="941.8">84.2</text><text x="1306.4" y="933.0">94.1</text><text x="1486.4" y="926.3">100.5</text><text x="1666.5" y="936.0">90.0</text><text x="1846.6" y="926.3">100.6</text><text x="2026.7" y="911.2">117.0</text><text x="2206.8" y="908.9">119.6</text><text x="2386.8" y="910.6">118.1</text><text x="2566.9" y="911.2">117.0</text>
</g>
<g font-size="32" font-weight="700" text-anchor="middle" fill="#0F757C"><text x="586.0" y="584.9">2.7</text><text x="586.0" y="662.0">2.8</text><text x="586.0" y="969.4">54.0</text></g>
<g font-size="32" text-anchor="middle" fill="#000"><text x="586.0" y="1017.5">1月</text><text x="766.1" y="1017.5">2月</text><text x="946.2" y="1017.5">3月</text><text x="1126.3" y="1017.5">4月</text><text x="1306.4" y="1017.5">5月</text><text x="1486.4" y="1017.5">6月</text><text x="1666.5" y="1017.5">7月</text><text x="1846.6" y="1017.5">8月</text><text x="2026.7" y="1017.5">9月</text><text x="2206.8" y="1017.5">10月</text><text x="2386.8" y="1017.5">11月</text><text x="2566.9" y="1017.5">12月</text></g>
<path d="M2673,402.5H2733.5" stroke="#0F757C" stroke-width="5.6" stroke-linecap="round"/><circle cx="2703.8" cy="402.5" r="7.2" fill="#fff" stroke="#0F757C" stroke-width="3.6"/><path d="M2672.5,456.6H2734" stroke="#919191" stroke-width="4" stroke-linecap="round"/><circle cx="2703.8" cy="457" r="7.4" fill="#fff" stroke="#919191" stroke-width="3.2"/>
<text x="2754" y="414.3" font-size="32.6">2026</text><text x="2754" y="468.4" font-size="32.6">2025</text>
<text x="2667" y="540.3" font-size="29.3">*单位：万辆</text>
</svg>
</body>
</html>
